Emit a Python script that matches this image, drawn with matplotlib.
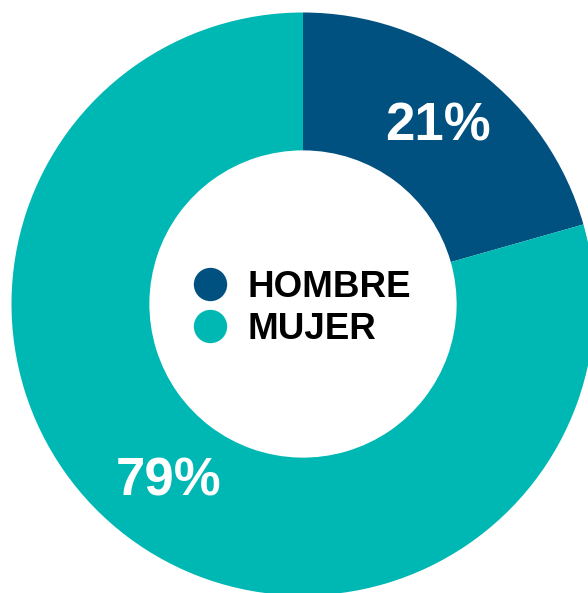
import matplotlib
matplotlib.use('Agg')
import matplotlib.pyplot as plt
from matplotlib.lines import Line2D

plt.rcParams['font.family'] = ['Liberation Sans', 'DejaVu Sans']

# Data
labels = ['HOMBRE', 'MUJER']
values = [20.6, 79.4]
colors = ['#005080', '#00B8B3']

W, H = 588, 593
DPI = 100

fig = plt.figure(figsize=(W / DPI, H / DPI), dpi=DPI)
fig.patch.set_facecolor('white')

# donut geometry in pixels (center from top-left)
cx, cy, R = 303, 304, 291.5
ax = fig.add_axes([(cx - R) / W, (H - cy - R) / H, 2 * R / W, 2 * R / H])

wedges, texts, autotexts = ax.pie(
  values,
  colors=colors,
  startangle=90,
  counterclock=False,
  radius=1.0,
  wedgeprops=dict(width=0.473, edgecolor='none'),
  autopct=lambda p: f'{p:.0f}%',
  pctdistance=0.765,
  textprops=dict(color='white', fontsize=38, fontweight='bold'))

ax.set_xlim(-1, 1)
ax.set_ylim(-1, 1)
ax.set_axis_off()

# legend in the hole
handles = [Line2D([], [], linestyle='none', marker='o', markersize=24,
                  markerfacecolor=c, markeredgecolor='none') for c in colors]
leg = fig.legend(
  handles, labels,
  loc='center left',
  bbox_to_anchor=(192 / W, (H - 308.5) / H),
  frameon=False,
  prop=dict(size=26.5, weight='bold'),
  handlelength=1.0,
  handletextpad=0.5,
  labelspacing=0.2,
  borderpad=0,
  borderaxespad=0)

fig.savefig('out.png', dpi=DPI, facecolor='white')
